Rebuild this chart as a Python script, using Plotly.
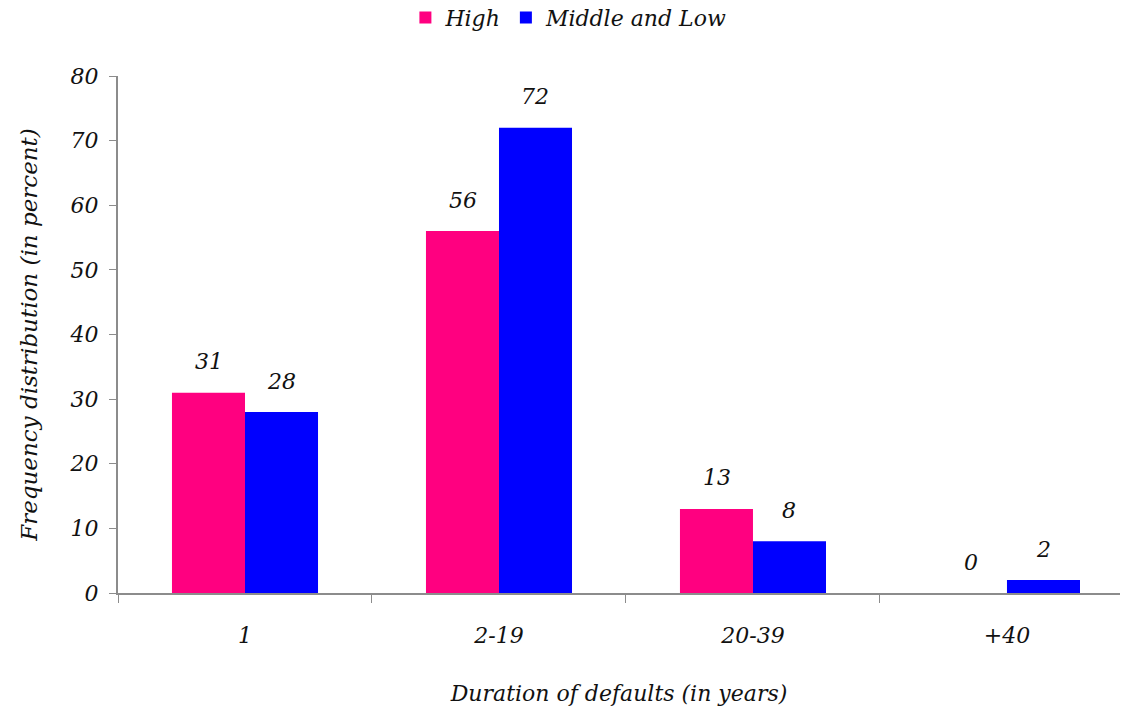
import plotly.graph_objects as go

categories = ["1", "2-19", "20-39", "+40"]
high = [31, 56, 13, 0]
middle_low = [28, 72, 8, 2]
y_ticks = [0, 10, 20, 30, 40, 50, 60, 70, 80]

PINK = "#FF0080"
BLUE = "#0000FF"
AXIS = "#8c8c8c"
SERIF = "DejaVu Serif"

fig = go.Figure()
fig.add_trace(go.Bar(name="High", x=categories, y=high, marker=dict(color=PINK, line=dict(width=0))))
fig.add_trace(go.Bar(name="Middle and Low", x=categories, y=middle_low, marker=dict(color=BLUE, line=dict(width=0))))

# value labels above each bar
offsets = {"High": -0.1435, "Middle and Low": 0.1435}
for name, vals in (("High", high), ("Middle and Low", middle_low)):
    for i, v in enumerate(vals):
        fig.add_annotation(
            x=i + offsets[name], y=v, xref="x", yref="y",
            text=str(v), showarrow=False,
            yshift=31, font=dict(family=SERIF, size=22, color="#111", style="italic"),
        )

fig.update_layout(
    width=1127, height=710,
    margin=dict(l=118, r=7, t=76, b=117, autoexpand=False),
    paper_bgcolor="white", plot_bgcolor="white",
    barmode="group", bargap=0.425, bargroupgap=0,
    font=dict(family=SERIF, color="#111"),
    showlegend=True,
    legend=dict(
        orientation="h", x=0.45, xanchor="center",
        yref="container", y=0.975, yanchor="middle",
        font=dict(family=SERIF, size=22, style="italic"),
        traceorder="normal",
    ),
    xaxis=dict(
        type="category", range=[-0.5, 3.445],
        showline=True, linecolor=AXIS, linewidth=2,
        ticks="outside", tickson="boundaries", ticklen=8, tickcolor=AXIS, tickwidth=1,
        tickfont=dict(family=SERIF, size=22, style="italic"),
        ticklabelstandoff=22,
        title=dict(text="Duration of defaults (in years)", standoff=38,
                   font=dict(family=SERIF, size=22, style="italic")),
        showgrid=False, zeroline=False,
    ),
    yaxis=dict(
        range=[0, 80], tickvals=y_ticks,
        showline=True, linecolor=AXIS, linewidth=2,
        ticks="outside", ticklen=7, tickcolor=AXIS, tickwidth=1,
        tickfont=dict(family=SERIF, size=22, style="italic"),
        ticklabelstandoff=6,
        title=dict(text="Frequency distribution (in percent)", standoff=26,
                   font=dict(family=SERIF, size=23, style="italic")),
        showgrid=False, zeroline=False,
    ),
)

fig.write_html("out.html")
